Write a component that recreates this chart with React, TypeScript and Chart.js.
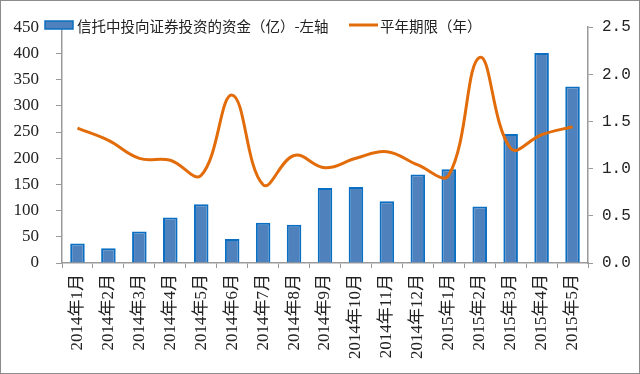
import React, { useEffect, useRef } from "react";
import { Chart, registerables } from "chart.js";

Chart.register(...registerables);

const categories = [
  "2014年1月", "2014年2月", "2014年3月", "2014年4月", "2014年5月", "2014年6月",
  "2014年7月", "2014年8月", "2014年9月", "2014年10月", "2014年11月", "2014年12月",
  "2015年1月", "2015年2月", "2015年3月", "2015年4月", "2015年5月",
];
const fundValues = [37, 28, 60, 87, 112, 46, 77, 73, 143, 145, 118, 169, 179, 108, 246, 401, 337];
const termValues = [1.43, 1.3, 1.11, 1.09, 0.93, 1.78, 0.83, 1.14, 1.01, 1.11, 1.18, 1.04, 0.93, 2.18, 1.215, 1.36, 1.445];
const barLabel = "信托中投向证券投资的资金（亿）-左轴";
const lineLabel = "平年期限（年）";

const BAR_FILL = "#4F81BD";
const BAR_BORDER = "#0A6FC2";
const LINE_COLOR = "#E36C0A";
const AXIS_COLOR = "#9A9A9A";

const legendPlugin = {
  id: "customLegend",
  afterDraw(chart: any) {
    const ctx = chart.ctx;
    ctx.save();
    ctx.strokeStyle = "#8C8C8C";
    ctx.lineWidth = 1;
    ctx.strokeRect(0.5, 0.5, chart.width - 1, chart.height - 1);
    ctx.fillStyle = BAR_FILL;
    ctx.fillRect(45, 21, 28, 8);
    ctx.strokeStyle = BAR_BORDER;
    ctx.lineWidth = 1.5;
    ctx.strokeRect(45, 21, 28, 8);
    ctx.font = '14.5px "Noto Sans CJK SC", sans-serif';
    ctx.fillStyle = "#222";
    ctx.textBaseline = "middle";
    ctx.textAlign = "left";
    ctx.fillText(barLabel, 77, 26);
    ctx.strokeStyle = LINE_COLOR;
    ctx.lineWidth = 3;
    ctx.beginPath();
    ctx.moveTo(349, 25);
    ctx.lineTo(378, 25);
    ctx.stroke();
    ctx.fillText(lineLabel, 380, 26);
    ctx.restore();
  },
};

export default function App() {
  const ref = useRef<HTMLCanvasElement>(null);
  useEffect(() => {
    document.body.style.margin = "0";
    const chart = new Chart(ref.current!, {
      type: "bar",
      data: {
        labels: categories,
        datasets: [
          {
            type: "line",
            label: lineLabel,
            data: termValues,
            yAxisID: "y1",
            borderColor: LINE_COLOR,
            backgroundColor: LINE_COLOR,
            borderWidth: 3,
            pointRadius: 0,
            tension: 0.4,
            order: 0,
          } as any,
          {
            type: "bar",
            label: barLabel,
            data: fundValues,
            yAxisID: "y",
            backgroundColor: BAR_FILL,
            borderColor: BAR_BORDER,
            borderWidth: 2,
            categoryPercentage: 1,
            barPercentage: 0.47,
            order: 1,
          },
        ],
      },
      options: {
        animation: false,
        responsive: false,
        layout: { padding: { top: 20, right: 0, left: 0, bottom: 0 } },
        plugins: { legend: { display: false }, tooltip: { enabled: false } },
        scales: {
          x: {
            offset: true,
            grid: {
              offset: true,
              drawOnChartArea: false,
              drawTicks: true,
              tickLength: 5,
              color: AXIS_COLOR,
            },
            border: { color: AXIS_COLOR, width: 1.5 },
            ticks: {
              minRotation: 90,
              maxRotation: 90,
              autoSkip: false,
              padding: 6,
              color: "#222",
              font: { family: '"Liberation Serif", "Noto Sans CJK SC", serif', size: 17 },
            },
            afterFit: (s: any) => {
              s.height = 111;
            },
          },
          y: {
            position: "left",
            min: 0,
            max: 450,
            grid: { drawOnChartArea: false, tickLength: 6, color: AXIS_COLOR },
            border: { color: AXIS_COLOR, width: 1.5 },
            ticks: {
              stepSize: 50,
              padding: 17,
              color: "#222",
              font: { family: '"Liberation Serif", serif', size: 17 },
            },
            afterFit: (s: any) => {
              s.width = 62;
            },
          },
          y1: {
            position: "right",
            min: 0,
            max: 2.5,
            grid: { drawOnChartArea: false, tickLength: 5, color: AXIS_COLOR },
            border: { color: AXIS_COLOR, width: 1.5 },
            ticks: {
              stepSize: 0.5,
              padding: 9,
              color: "#222",
              font: { family: '"Liberation Mono", monospace', size: 16 },
              callback: (v: any) => Number(v).toFixed(1),
            },
            afterFit: (s: any) => {
              s.width = 52;
            },
          },
        },
      },
      plugins: [legendPlugin],
    });
    return () => chart.destroy();
  }, []);
  return (
    <div style={{ width: 640, height: 374, position: "relative", background: "#fff" }}>
      <canvas ref={ref} width={640} height={374} style={{ display: "block" }} />
    </div>
  );
}
